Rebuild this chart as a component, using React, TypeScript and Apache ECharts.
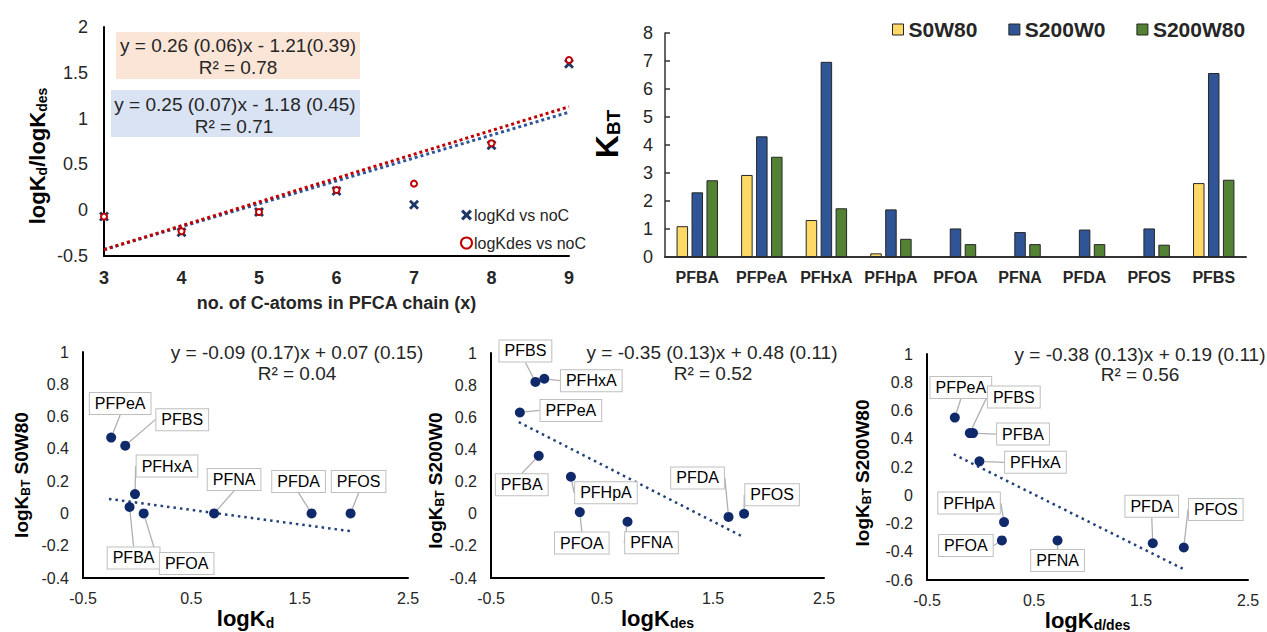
import React, { useEffect, useRef } from 'react';
import * as echarts from 'echarts';

const FONT = '"Liberation Sans", Arial, Helvetica, sans-serif';
const NAVY = '#10296a';
const TXT = '#262626';

// ---- Chart 1: logKd / logKdes vs number of C atoms ----
const carbonAtoms = [3, 4, 5, 6, 7, 8, 9];
const logKdByC = [-0.07, -0.24, -0.02, 0.21, 0.06, 0.71, 1.6];
const logKdesByC = [-0.07, -0.23, -0.02, 0.22, 0.29, 0.73, 1.64];
const trendKdEnds = [[3, -0.43], [9, 1.07]];
const trendKdesEnds = [[3, -0.43], [9, 1.13]];

// ---- Chart 2: KBT bars ----
const compounds = ['PFBA', 'PFPeA', 'PFHxA', 'PFHpA', 'PFOA', 'PFNA', 'PFDA', 'PFOS', 'PFBS'];
const kbtS0W80 = [1.1, 2.93, 1.32, 0.13, null, null, null, null, 2.64];
const kbtS200W0 = [2.31, 4.31, 6.97, 1.7, 1.02, 0.89, 0.98, 1.02, 6.57];
const kbtS200W80 = [2.74, 3.58, 1.74, 0.65, 0.46, 0.46, 0.46, 0.44, 2.76];

// ---- Chart 3: logKBT S0W80 vs logKd ----
const names3 = ['PFPeA', 'PFBS', 'PFHxA', 'PFBA', 'PFOA', 'PFNA', 'PFDA', 'PFOS'];
const logKd3 = [-0.24, -0.11, -0.02, -0.07, 0.06, 0.71, 1.61, 1.97];
const logKbtS0W80 = [0.47, 0.42, 0.12, 0.04, 0.0, 0.0, 0.0, 0.0];
const trend3Ends = [[-0.26, 0.09], [1.97, -0.11]];

// ---- Chart 4: logKBT S200W0 vs logKdes ----
const names4 = ['PFBS', 'PFHxA', 'PFPeA', 'PFBA', 'PFHpA', 'PFOA', 'PFNA', 'PFDA', 'PFOS'];
const logKdes4 = [-0.1, -0.02, -0.24, -0.07, 0.22, 0.3, 0.73, 1.64, 1.78];
const logKbtS200W0 = [0.82, 0.84, 0.63, 0.36, 0.23, 0.01, -0.05, -0.02, 0.0];
const trend4Ends = [[-0.25, 0.57], [1.76, -0.14]];

// ---- Chart 5: logKBT S200W80 vs logKd/des ----
const names5 = ['PFPeA', 'PFBS', 'PFBA', 'PFHxA', 'PFHpA', 'PFOA', 'PFNA', 'PFDA', 'PFOS'];
const logKdDes5 = [-0.24, -0.1, -0.07, -0.01, 0.22, 0.2, 0.72, 1.61, 1.9];
const logKbtS200W80 = [0.55, 0.44, 0.44, 0.24, -0.19, -0.32, -0.32, -0.34, -0.37];
const trend5Ends = [[-0.25, 0.29], [1.89, -0.52]];

// label callout offsets (px) relative to the point
const offsets3: Record<string, number[]> = {
  PFPeA: [9, -34], PFBS: [57, -26], PFHxA: [32, -28], PFNA: [20, -34],
  PFDA: [-13, -32], PFOS: [8, -32], PFBA: [4, 51], PFOA: [43, 50],
};
const offsets4: Record<string, number[]> = {
  PFBS: [-10, -31], PFHxA: [47, 2], PFPeA: [51, -2], PFBA: [-17, 29], PFHpA: [35, 16],
  PFOA: [2, 31], PFNA: [24, 21], PFDA: [-31, -39], PFOS: [28, -19],
};
const offsets5: Record<string, number[]> = {
  PFPeA: [6, -30], PFBS: [44, -36], PFBA: [50, 1], PFHxA: [56, 1], PFHpA: [-35, -19],
  PFOA: [-36, 5], PFNA: [0, 20], PFDA: [-1, -37], PFOS: [32, -38],
};

const XSYM = 'path://M2,0 L5,3 L8,0 L10,2 L7,5 L10,8 L8,10 L5,7 L2,10 L0,8 L3,5 L0,2 Z';

function subRich(main: number, sub: number, padTop: number) {
  return {
    a: { fontSize: main, fontWeight: 'bold', fontFamily: FONT, color: '#000', lineHeight: main + 4 },
    b: { fontSize: sub, fontWeight: 'bold', fontFamily: FONT, color: '#000', padding: [padTop, 0, 0, 0] },
  };
}

function scatterAxes(idx: number, yMin: number, yMax: number, xName: string, yName: string, xGap: number, yGap: number, yPad: number[]) {
  const xAxis = {
    gridIndex: idx, type: 'value', min: -0.5, max: 2.5, interval: 0.5,
    axisLine: { onZero: false, lineStyle: { color: '#000', width: 2 } },
    axisTick: { show: false }, splitLine: { show: false },
    axisLabel: {
      fontSize: 16, fontFamily: FONT, color: TXT, margin: 12,
      formatter: (v: number) => (Math.abs(Math.round(v * 2)) % 2 === 1 ? String(v) : ''),
    },
    name: xName, nameLocation: 'middle', nameGap: xGap,
    nameTextStyle: { rich: subRich(22, 14, 10) },
  };
  const yAxis = {
    gridIndex: idx, type: 'value', min: yMin, max: yMax, interval: 0.2,
    axisLine: { show: true, onZero: false, lineStyle: { color: '#000', width: 2 } },
    axisTick: { show: false }, splitLine: { show: false },
    axisLabel: { fontSize: 16, fontFamily: FONT, color: TXT, margin: 14 },
    name: yName, nameLocation: 'middle', nameGap: yGap,
    nameTextStyle: { rich: subRich(19, 12, 9), padding: yPad },
  };
  return { xAxis, yAxis };
}

function labeledScatter(idx: number, names: string[], xs: number[], ys: number[], offsets: Record<string, number[]>) {
  return {
    type: 'scatter', xAxisIndex: idx, yAxisIndex: idx, symbolSize: 10,
    itemStyle: { color: NAVY, opacity: 1 },
    data: names.map((n, i) => ({ name: n, value: [xs[i], ys[i]] })),
    label: {
      show: true, position: 'inside', formatter: '{b}', color: '#000', fontSize: 16, fontFamily: FONT,
      backgroundColor: '#fff', borderColor: '#bfbfbf', borderWidth: 1, padding: [3, 5, 2, 5], opacity: 1,
    },
    labelLine: { show: true, lineStyle: { color: '#b0b0b0', width: 1.3, opacity: 1 } },
    labelLayout: (p: any) => {
      const o = offsets[names[p.dataIndex]] || [0, 0];
      return { dx: o[0], dy: o[1] };
    },
    z: 4,
  };
}

function trend(idx: number, ends: number[][], color: string, width: number, dash: number[]) {
  return {
    type: 'line', xAxisIndex: idx, yAxisIndex: idx, data: ends, symbol: 'none', silent: true,
    lineStyle: { color, width, type: dash }, z: 2,
  };
}

function gtext(x: number, y: number, text: string, size: number) {
  return {
    type: 'text', x, y, z: 10,
    style: {
      text, fontSize: size, fontFamily: FONT, fill: TXT,
      align: 'center', verticalAlign: 'middle', textAlign: 'center', textVerticalAlign: 'middle',
    },
  };
}

function buildOption() {
  const a3 = scatterAxes(2, -0.4, 1, '{a|logK}{b|d}', '{a|logK}{b|BT}{a| S0W80}', 27, 50, [0, 20, 0, 0]);
  const a4 = scatterAxes(3, -0.4, 1, '{a|logK}{b|des}', '{a|logK}{b|BT}{a| S200W0}', 27, 40, [0, 30, 0, 0]);
  const a5 = scatterAxes(4, -0.6, 1, '{a|logK}{b|d/des}', '{a|logK}{b|BT}{a| S200W80}', 27, 53, [0, 12, 0, 0]);

  return {
    animation: false,
    textStyle: { fontFamily: FONT },
    grid: [
      { left: 104, top: 27, width: 465, height: 229, containLabel: false, outerBoundsMode: 'none' },
      { left: 665, top: 33, width: 581, height: 224, containLabel: false, outerBoundsMode: 'none' },
      { left: 83, top: 352, width: 325, height: 226, containLabel: false, outerBoundsMode: 'none' },
      { left: 491, top: 353, width: 333, height: 225, containLabel: false, outerBoundsMode: 'none' },
      { left: 927, top: 354, width: 321, height: 226, containLabel: false, outerBoundsMode: 'none' },
    ],
    legend: [
      {
        data: ['logKd vs noC', 'logKdes vs noC'], orient: 'vertical', left: 455, top: 202,
        itemGap: 12, itemWidth: 11, itemHeight: 11,
        textStyle: { fontSize: 16, fontFamily: FONT, color: TXT, padding: [0, 0, 0, -3] },
      },
      {
        data: ['S0W80', 'S200W0', 'S200W80'], left: 887, top: 14, itemGap: 31,
        itemWidth: 11, itemHeight: 11, icon: 'rect',
        itemStyle: { borderColor: '#262626', borderWidth: 1 },
        textStyle: { fontSize: 21, fontWeight: 'bold', fontFamily: FONT, color: TXT },
      },
    ],
    xAxis: [
      {
        gridIndex: 0, type: 'value', min: 3, max: 9, interval: 1,
        axisLine: { onZero: false, lineStyle: { color: '#000', width: 2 } },
        axisTick: { show: false }, splitLine: { show: false },
        axisLabel: { fontSize: 18, fontWeight: 'bold', fontFamily: FONT, color: TXT, margin: 13 },
        name: 'no. of C-atoms in PFCA chain (x)', nameLocation: 'middle', nameGap: 38,
        nameTextStyle: { fontSize: 18, fontWeight: 'bold', fontFamily: FONT, color: TXT },
      },
      {
        gridIndex: 1, type: 'category', data: compounds,
        axisLine: { lineStyle: { color: '#333', width: 2 } },
        axisTick: { show: false },
        axisLabel: { interval: 0, fontSize: 16, fontWeight: 'bold', fontFamily: FONT, color: TXT, margin: 12 },
      },
      a3.xAxis, a4.xAxis, a5.xAxis,
    ],
    yAxis: [
      {
        gridIndex: 0, type: 'value', min: -0.5, max: 2, interval: 0.5,
        axisLine: { show: true, onZero: false, lineStyle: { color: '#000', width: 2 } },
        axisTick: { show: false }, splitLine: { show: false },
        axisLabel: { fontSize: 18, fontFamily: FONT, color: TXT, margin: 16 },
        name: '{a|logK}{b|d}{a|/logK}{b|des}', nameLocation: 'middle', nameGap: 54,
        nameTextStyle: { rich: subRich(22, 14, 10), padding: [0, 29, 0, 0] },
      },
      {
        gridIndex: 1, type: 'value', min: 0, max: 8, interval: 1,
        axisLine: { show: true, lineStyle: { color: '#333', width: 1.5 } },
        axisTick: { show: true, inside: true, length: 5, lineStyle: { color: '#333', width: 1.5 } },
        splitLine: { show: false },
        axisLabel: { fontSize: 18, fontFamily: FONT, color: TXT, margin: 12 },
        name: '{a|K}{b|BT}', nameLocation: 'middle', nameGap: 40,
        nameTextStyle: {
          rich: {
            a: { fontSize: 32, fontWeight: 'bold', fontFamily: FONT, color: '#000', lineHeight: 36 },
            b: { fontSize: 19, fontWeight: 'bold', fontFamily: FONT, color: '#000', padding: [13, 0, 0, 0] },
          },
          padding: [0, 0, 0, 22],
        },
      },
      a3.yAxis, a4.yAxis, a5.yAxis,
    ],
    series: [
      trend(0, trendKdEnds, '#2f5597', 3, [3, 3]),
      trend(0, trendKdesEnds, '#c00000', 3, [3, 3]),
      {
        name: 'logKd vs noC', type: 'scatter', xAxisIndex: 0, yAxisIndex: 0,
        symbol: XSYM, symbolSize: 10, itemStyle: { color: '#1f3864', opacity: 1 },
        data: carbonAtoms.map((c, i) => [c, logKdByC[i]]), z: 3,
      },
      {
        name: 'logKdes vs noC', type: 'scatter', xAxisIndex: 0, yAxisIndex: 0,
        symbol: 'emptyCircle', symbolSize: 6,
        itemStyle: { color: '#c00000', borderColor: '#c00000', borderWidth: 2, opacity: 1 },
        data: carbonAtoms.map((c, i) => [c, logKdesByC[i]]), z: 4,
      },
      {
        name: 'S0W80', type: 'bar', xAxisIndex: 1, yAxisIndex: 1, data: kbtS0W80,
        barWidth: 11.5, barGap: '30%', itemStyle: { color: '#ffd966', borderColor: '#262626', borderWidth: 1 },
      },
      {
        name: 'S200W0', type: 'bar', xAxisIndex: 1, yAxisIndex: 1, data: kbtS200W0,
        barWidth: 11.5, barGap: '30%', itemStyle: { color: '#2f5597', borderColor: '#262626', borderWidth: 1 },
      },
      {
        name: 'S200W80', type: 'bar', xAxisIndex: 1, yAxisIndex: 1, data: kbtS200W80,
        barWidth: 11.5, barGap: '30%', itemStyle: { color: '#548235', borderColor: '#262626', borderWidth: 1 },
      },
      trend(2, trend3Ends, '#23407a', 2.5, [2.5, 4]),
      labeledScatter(2, names3, logKd3, logKbtS0W80, offsets3),
      trend(3, trend4Ends, '#23407a', 2.5, [2.5, 4]),
      labeledScatter(3, names4, logKdes4, logKbtS200W0, offsets4),
      trend(4, trend5Ends, '#23407a', 2.5, [2.5, 4]),
      labeledScatter(4, names5, logKdDes5, logKbtS200W80, offsets5),
    ],
    graphic: [
      { type: 'rect', shape: { x: 116, y: 32, width: 244, height: 47 }, style: { fill: '#fbe5d6' }, z: 1 },
      { type: 'rect', shape: { x: 111, y: 90, width: 249, height: 47 }, style: { fill: '#dae3f3' }, z: 1 },
      gtext(238, 45, 'y = 0.26 (0.06)x - 1.21(0.39)', 19),
      gtext(238, 67, 'R² = 0.78', 19),
      gtext(235, 104, 'y = 0.25 (0.07)x - 1.18 (0.45)', 19),
      gtext(234, 126, 'R² = 0.71', 19),
      gtext(297, 352, 'y = -0.09 (0.17)x + 0.07 (0.15)', 19),
      gtext(297, 373, 'R² = 0.04', 19),
      gtext(712, 352, 'y = -0.35 (0.13)x + 0.48 (0.11)', 19),
      gtext(713, 373, 'R² = 0.52', 19),
      gtext(1140, 354, 'y = -0.38 (0.13)x + 0.19 (0.11)', 19),
      gtext(1140, 374, 'R² = 0.56', 19),
    ],
  };
}

export default function App() {
  const ref = useRef<HTMLDivElement>(null);
  useEffect(() => {
    if (!ref.current) return;
    const chart = echarts.init(ref.current, null, { renderer: 'svg' });
    chart.setOption(buildOption() as any);
    return () => chart.dispose();
  }, []);
  return <div ref={ref} style={{ position: 'absolute', left: 0, top: 0, width: 1267, height: 632, background: '#fff' }} />;
}
